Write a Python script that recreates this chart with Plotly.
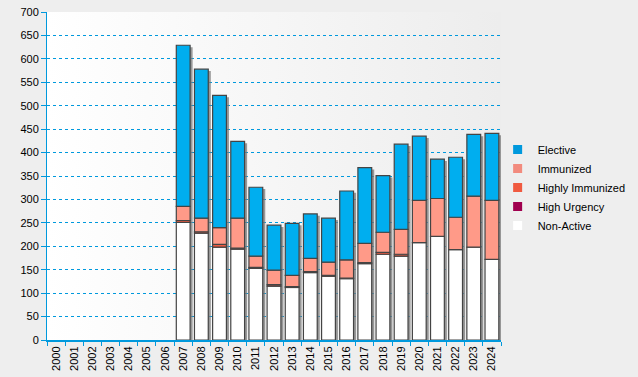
import base64
import plotly.graph_objects as go

years = [str(y) for y in range(2000, 2025)]
non_active = [0]*7 + [251, 228, 198, 194, 153, 115, 112, 144, 136, 131, 163, 183, 179, 208, 221, 193, 198, 172]
high_urgency = [0]*25
highly_immunized = [0]*7 + [4, 3, 6, 2, 2, 3, 2, 2, 2, 1, 2, 4, 4, 0, 0, 0, 0, 0]
immunized = [0]*7 + [30, 29, 36, 64, 24, 31, 24, 28, 28, 39, 41, 43, 53, 90, 81, 69, 109, 126]
elective = [0]*7 + [344, 318, 282, 164, 147, 96, 111, 95, 94, 147, 162, 121, 182, 137, 84, 128, 132, 143]

y_ticks = list(range(0, 701, 50))

series = [
    ("Non-Active", non_active, "#FFFFFF"),
    ("High Urgency", high_urgency, "#A0004F"),
    ("Highly Immunized", highly_immunized, "#F05A40"),
    ("Immunized", immunized, "#FF9A88"),
    ("Elective", elective, "#00AEEF"),
]
legend_colors = {"Elective": "#0099DD", "Immunized": "#F28B7E", "Highly Immunized": "#F05A40",
                 "High Urgency": "#A0004F", "Non-Active": "#FFFFFF"}

totals = [sum(t) for t in zip(non_active, high_urgency, highly_immunized, immunized, elective)]

BW = 0.76
fig = go.Figure()
# drop shadow behind each stacked bar
fig.add_trace(go.Bar(
    x=years, y=[t if t else None for t in totals], base=[-4]*len(years),
    width=BW, offset=-BW/2 + 0.14,
    marker=dict(color="rgba(120,120,120,0.75)", line=dict(width=0)),
    showlegend=False, hoverinfo="skip",
))
base = [0]*len(years)
for name, vals, col in series:
    fig.add_trace(go.Bar(
        x=years, y=[v if v else None for v in vals], base=list(base), name=name,
        marker=dict(color=col, line=dict(color="#444444", width=1.2)),
        width=BW, offset=-BW/2, showlegend=False,
    ))
    base = [b + v for b, v in zip(base, vals)]
# legend entries (small squares without border)
for name, vals, col in reversed(series):
    fig.add_trace(go.Scatter(
        x=[None], y=[None], mode="markers", name=name,
        marker=dict(symbol="square", size=9, color=legend_colors[name], line=dict(width=0)),
    ))

svg = ('<svg xmlns="http://www.w3.org/2000/svg" width="100" height="100" preserveAspectRatio="none">'
       '<defs><linearGradient id="g" x1="0" y1="0" x2="1" y2="0">'
       '<stop offset="0" stop-color="#FFFFFF"/><stop offset="1" stop-color="#EDEDED"/>'
       '</linearGradient></defs><rect width="100" height="100" fill="url(#g)"/></svg>')
bg_src = "data:image/svg+xml;base64," + base64.b64encode(svg.encode()).decode()

fig.update_layout(
    width=638, height=377,
    barmode="overlay",
    paper_bgcolor="#EEEEEE",
    plot_bgcolor="#F6F6F6",
    margin=dict(l=47, r=137, t=12, b=37, autoexpand=False),
    font=dict(family="Liberation Sans, Arial, sans-serif", size=11, color="#000000"),
    showlegend=True,
    legend=dict(traceorder="normal", xref="container", yref="container",
                x=0.780, y=0.642, xanchor="left", yanchor="top",
                bgcolor="rgba(0,0,0,0)", font=dict(size=11), itemwidth=30,
                tracegroupgap=0),
    images=[dict(source=bg_src, xref="paper", yref="paper", x=0, y=1,
                 sizex=1, sizey=1, sizing="stretch", layer="below",
                 xanchor="left", yanchor="top")],
)
fig.update_yaxes(
    range=[0, 700], tickvals=y_ticks, showline=True, linecolor="#0099DD", linewidth=1,
    ticks="outside", tickcolor="#0099DD", ticklen=5,
    showgrid=True, gridcolor="#0099DD", griddash="dot", gridwidth=1,
    zeroline=False, automargin=False,
)
fig.update_xaxes(
    type="category", categoryorder="array", categoryarray=years, range=[-0.5, len(years) - 0.5],
    tickangle=-90, showline=True, linecolor="#0099DD", linewidth=2,
    ticks="outside", tickcolor="#0099DD", ticklen=4, tickson="boundaries",
    showgrid=False, automargin=False,
)
fig.write_html("out.html", config={"displayModeBar": False},
               post_script="document.body.style.margin='0';")
